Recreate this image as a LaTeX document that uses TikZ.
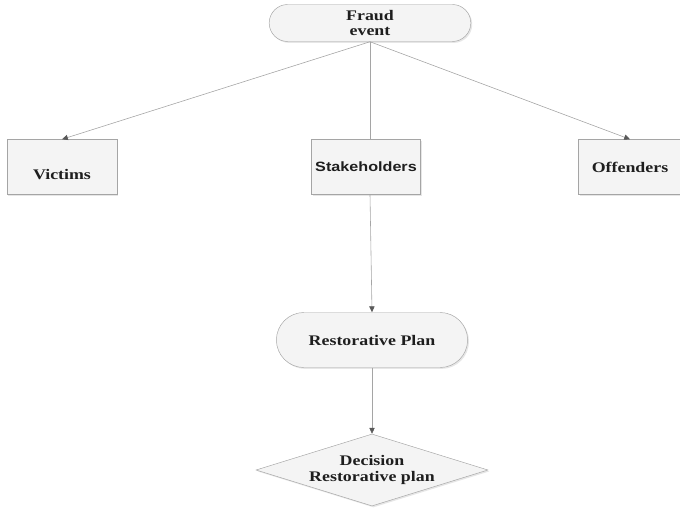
\documentclass[tikz,border=0pt]{standalone}
\usepackage{fontspec}
\setmainfont{Liberation Serif}[FakeStretch=1.22]
\newfontfamily\arialbold{Liberation Sans}[FakeStretch=1.2]
\usetikzlibrary{shapes.geometric,shapes.misc,shadows,arrows.meta}

\definecolor{edgegray}{RGB}{165,165,165}
\definecolor{boxfill}{RGB}{244,244,244}
\definecolor{txt}{RGB}{30,30,30}

\tikzset{
  flowbox/.style={draw=edgegray, fill=boxfill, text=txt,
    font=\fontsize{12.5}{13}\selectfont\bfseries,
    drop shadow={opacity=0.2, shadow xshift=1.2pt, shadow yshift=-1.2pt}},
  procbox/.style={flowbox, rectangle, minimum width=3.3cm, minimum height=1.65cm},
  termbox/.style={flowbox, rounded rectangle, align=center},
  link/.style={draw=edgegray, line width=0.5pt},
  tip/.style={-{Stealth[length=5pt,width=4.5pt,inset=0pt,color=black!65]}}
}

\begin{document}
\begin{tikzpicture}[x=0.03cm, y=-0.03cm]
\useasboundingbox (0,0) rectangle (680,508);

\node[termbox, minimum width=6.12cm, minimum height=1.11cm, inner sep=1pt] (fraud) at (370,23) {Fraud\\event};
\node[procbox] (victims) at (62,167) {\raisebox{-6pt}[\height][0pt]{Victims}};
\node[procbox, minimum width=3.15cm, font=\arialbold\fontsize{11.5}{13}\selectfont\bfseries] (stake) at (366,167) {Stakeholders};
\node[procbox, minimum width=3.1cm] (offend) at (630,167) {Offenders};
\node[termbox, minimum width=5.97cm, minimum height=1.65cm] (plan) at (372,340) {Restorative Plan};
\node[flowbox, diamond, aspect=3.2, inner sep=0pt, minimum width=6.96cm, minimum height=2.16cm, align=center] (decision) at (372,470) {Decision\\Restorative plan};

\coordinate (stakein) at (fraud.south |- stake.north);
\coordinate (stakeout) at (fraud.south |- stake.south);

\draw[link, tip] (fraud.south) -- (victims.north);
\draw[link] (fraud.south) -- (stakein);
\draw[link, tip] (fraud.south) -- (offend.north);
\draw[link, tip] (stakeout) -- (plan.north);
\draw[link, tip] (plan.south) -- (decision.north);
\end{tikzpicture}
\end{document}
